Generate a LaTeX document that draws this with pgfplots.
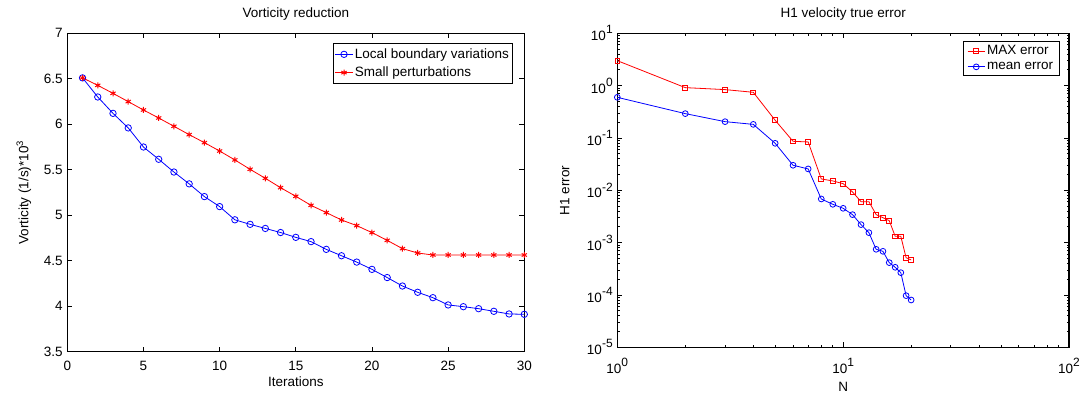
\documentclass[border=0pt]{standalone}
\usepackage{fontspec}
\setmainfont{Liberation Sans}
\usepackage{pgfplots}
\pgfplotsset{compat=1.18}
\newcommand\tp[1]{10\raisebox{0.5em}{\fontsize{12}{12}\selectfont #1}}
\begin{document}
\begin{tikzpicture}
\path[use as bounding box] (0pt,0pt) rectangle (1083pt,394pt);
\pgfplotsset{
  every axis/.append style={
    scale only axis,
    font=\fontsize{13.5}{16}\selectfont,
    axis line style={line width=1.2pt},
    every tick/.style={black, line width=0.9pt},
    major tick length=5pt, minor tick length=2.5pt,
    tick align=inside,
    xtick pos=both, ytick pos=both,
    /pgf/number format/assume math mode=true,
    legend cell align=left,
    legend style={draw=black, line width=1pt, font=\fontsize{13.5}{16}\selectfont, inner sep=2pt, row sep=0pt},
    title style={anchor=base, at={(0.5,1)}, yshift=10pt},
    yticklabel style={anchor=east, xshift=-1.1pt},
  },
}
\begin{axis}[at={(67.3pt,42.3pt)}, anchor=south west, width=457pt, height=318.4pt,
  xmin=0, xmax=30, ymin=3.5, ymax=7,
  xtick={0,5,...,30}, ytick={3.5,4,...,7},
  xticklabel style={anchor=base, yshift=-18.3pt},
  title={Vorticity reduction},
  xlabel={Iterations},
  ylabel={Vorticity (1/s)*10\textsuperscript{3}},
  xlabel style={at={(axis description cs:0.5,0)}, anchor=base, yshift=-35pt},
  ylabel style={at={(axis description cs:-0.0853,0.5)}, anchor=base},
  legend style={at={(1,1)}, anchor=north east, xshift=-11pt, yshift=-9.4pt, row sep=3pt, inner ysep=3.5pt},
  clip=false]
\addplot[blue, line width=0.8pt, mark=o, mark size=3.2pt, mark options={solid, line width=0.8pt}] coordinates {
(1,6.51) (2,6.30) (3,6.12) (4,5.96) (5,5.75) (6,5.615) (7,5.475) (8,5.345) (9,5.205) (10,5.095)
(11,4.95) (12,4.90) (13,4.855) (14,4.81) (15,4.757) (16,4.71) (17,4.625) (18,4.555) (19,4.485) (20,4.405)
(21,4.315) (22,4.222) (23,4.153) (24,4.094) (25,4.014) (26,3.995) (27,3.973) (28,3.944) (29,3.915) (30,3.911)};
\addlegendentry{Local boundary variations}
\addplot[red, line width=0.8pt, mark=asterisk, mark size=3pt, mark options={solid, line width=1pt}] coordinates {
(1,6.51) (2,6.428) (3,6.34) (4,6.249) (5,6.157) (6,6.069) (7,5.978) (8,5.886) (9,5.798) (10,5.706)
(11,5.608) (12,5.505) (13,5.406) (14,5.303) (15,5.208) (16,5.109) (17,5.029) (18,4.948) (19,4.886) (20,4.809)
(21,4.724) (22,4.633) (23,4.585) (24,4.563) (25,4.563) (26,4.563) (27,4.563) (28,4.563) (29,4.563) (30,4.563)};
\addlegendentry{Small perturbations}
\end{axis}
\begin{axis}[at={(617.3pt,46.7pt)}, anchor=south west, width=451.7pt, height=314pt,
  xmode=log, ymode=log,
  xmin=1, xmax=100, ymin=1e-5, ymax=10,
  xtick={1,10,100}, xticklabels={\tp{0},\tp{1},\tp{2}},
  ytick={1e-5,1e-4,1e-3,1e-2,1e-1,1,10},
  yticklabels={\tp{-5},\tp{-4},\tp{-3},\tp{-2},\tp{-1},\tp{0},\tp{1}},
  xticklabel style={anchor=base, yshift=-26pt},
  title={H1 velocity true error},
  xlabel={N},
  ylabel={H1 error},
  xlabel style={at={(axis description cs:0.5,0)}, anchor=base, yshift=-44.5pt},
  ylabel style={at={(axis description cs:-0.1063,0.5)}, anchor=base},
  legend style={at={(1,1)}, anchor=north east, xshift=-9.3pt, yshift=-7.4pt, row sep=2pt, inner ysep=2.5pt, inner xsep=4pt},
  clip=false]
\addplot[red, line width=0.8pt, mark=square, mark size=2.4pt, mark options={solid, line width=0.8pt}] coordinates {
(1,3.0) (2,0.916) (3,0.84) (4,0.746) (5,0.218) (6,0.0863) (7,0.084) (8,0.0165) (9,0.0151) (10,0.0134)
(11,0.0093) (12,0.00607) (13,0.00607) (14,0.00343) (15,0.0030) (16,0.00263) (17,0.00132) (18,0.00132) (19,0.000516) (20,0.000467)};
\addlegendentry{MAX error}
\addplot[blue, line width=0.8pt, mark=o, mark size=2.9pt, mark options={solid, line width=0.8pt}] coordinates {
(1,0.598) (2,0.292) (3,0.205) (4,0.182) (5,0.0791) (6,0.0301) (7,0.0256) (8,0.00683) (9,0.0054) (10,0.00453)
(11,0.00343) (12,0.00221) (13,0.00155) (14,0.000746) (15,0.000683) (16,0.000415) (17,0.000338) (18,0.000267) (19,0.000097) (20,0.0000802)};
\addlegendentry{mean error}
\end{axis}
\end{tikzpicture}
\end{document}
